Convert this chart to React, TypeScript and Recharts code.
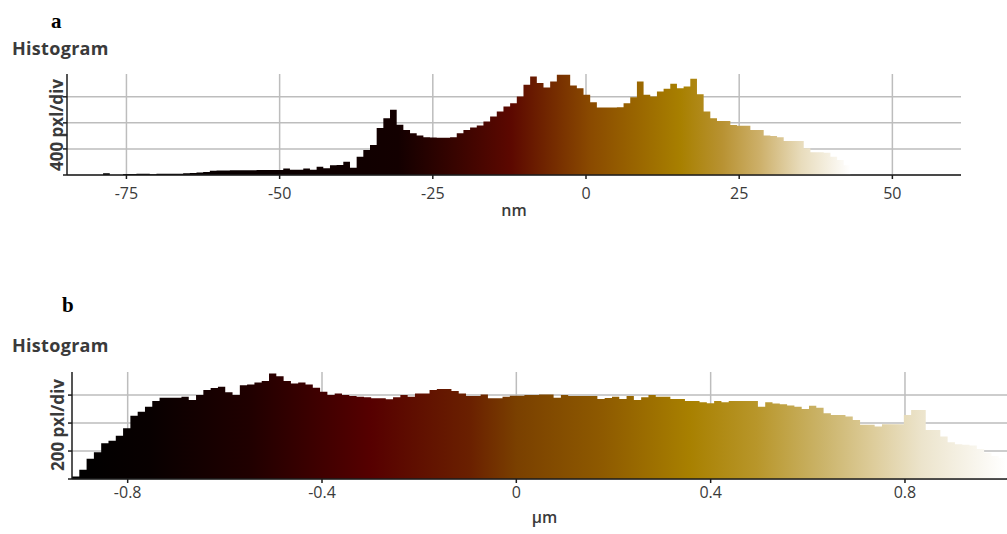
import React from 'react';
import { AreaChart, Area, XAxis, YAxis, CartesianGrid, Label } from 'recharts';

// panel a: height histogram in nm, bins of ~1.09 nm
const aBinStart = -79.9;
const aBinWidth = 1.089;
const aCounts = [
  0, 25, 0, 0, 15, 15, 20, 20, 10, 20,
  20, 20, 20, 25, 30, 40, 45, 65, 70, 70,
  72, 72, 72, 72, 75, 75, 75, 77, 100, 80,
  80, 100, 80, 125, 105, 150, 155, 205, 110, 280,
  385, 460, 720, 870, 1000, 770, 690, 640, 605, 580,
  575, 570, 572, 578, 640, 690, 730, 760, 820, 897,
  974, 1051, 1103, 1205, 1384, 1512, 1410, 1343, 1435, 1538,
  1538, 1374, 1333, 1230, 1118, 1036, 1036, 1036, 1040, 1103,
  1195, 1435, 1230, 1205, 1282, 1323, 1400, 1333, 1358, 1477,
  1241, 974, 872, 830, 830, 769, 754, 754, 692, 692,
  605, 600, 580, 523, 523, 523, 410, 349, 349, 340,
  282, 230, 150,
];
const aTicks = [-75, -50, -25, 0, 25, 50];
const aYTicks = [0, 400, 800, 1200];

// panel b: height histogram in µm, 128 bins
const bBinStart = -0.9146;
const bBinWidth = 0.01502;
const bCounts = [
  18, 66, 145, 192, 256, 273, 310, 363, 453, 481,
  517, 557, 581, 581, 581, 588, 565, 600, 636, 650,
  659, 620, 600, 670, 675, 690, 700, 755, 735, 700,
  683, 690, 676, 652, 624, 600, 612, 600, 593, 588,
  584, 577, 577, 570, 585, 600, 588, 612, 612, 636,
  643, 643, 629, 612, 593, 593, 605, 577, 577, 588,
  595, 595, 600, 600, 605, 605, 581, 600, 593, 593,
  593, 593, 572, 580, 588, 572, 593, 565, 584, 600,
  588, 588, 572, 572, 557, 557, 548, 541, 557, 548,
  557, 557, 557, 557, 517, 548, 540, 534, 525, 517,
  500, 524, 510, 470, 458, 458, 446, 422, 387, 387,
  375, 392, 392, 392, 458, 493, 493, 351, 351, 303,
  263, 249, 245, 239, 215, 187, 165, 150,
];
const bTicks = [-0.8, -0.4, 0, 0.4, 0.8];
const bYTicks = [0, 200, 400, 600];

const toBins = (start: number, width: number, counts: number[]) => {
  const rows = counts.map((c, i) => ({ x: start + i * width, count: c }));
  rows.push({ x: start + counts.length * width, count: 0 });
  return rows;
};

const aData = toBins(aBinStart, aBinWidth, aCounts);
const bData = toBins(bBinStart, bBinWidth, bCounts);

const FONT = '"Open Sans", "Noto Sans", sans-serif';
const GRID = '#bdbdbd';
const AXIS = '#1c1c1c';
const TEXT = '#3a3a3a';

const abs = (style: React.CSSProperties): React.CSSProperties => ({
  position: 'absolute',
  whiteSpace: 'nowrap',
  lineHeight: 1,
  ...style,
});

const panelLetter = { fontFamily: '"Liberation Serif", "Times New Roman", serif', fontWeight: 700, fontSize: 21, color: '#000' };
const heading = { fontFamily: FONT, fontWeight: 700, fontSize: 18, color: TEXT, letterSpacing: 0.3 };
const yLabel = { fontFamily: FONT, fontWeight: 700, fontSize: 17, color: TEXT, transform: 'translate(-50%, -50%) rotate(-90deg)' };

export default function App() {
  return (
    <div style={{ position: 'absolute', left: 0, top: 0, width: 1007, height: 534, background: '#fff', overflow: 'hidden' }}>
      <div style={abs({ ...panelLetter, left: 51, top: 11 })}>a</div>
      <div style={abs({ ...heading, left: 12, top: 39 })}>Histogram</div>
      <div style={abs({ ...yLabel, left: 56, top: 125 })}>400 pxl/div</div>

      <div style={abs({ left: 0, top: 0 })}>
        <AreaChart width={1007} height={230} data={aData} margin={{ top: 74, right: 46, bottom: 25, left: 57 }}>
          <defs>
            <linearGradient id="gradA" x1="0" y1="0" x2="1" y2="0">
              <stop offset="0" stopColor="#000000" />
              <stop offset="0.40" stopColor="#130000" />
              <stop offset="0.55" stopColor="#5c0800" />
              <stop offset="0.655" stopColor="#8a4a00" />
              <stop offset="0.775" stopColor="#a88000" />
              <stop offset="0.83" stopColor="#b89232" />
              <stop offset="0.88" stopColor="#cdb06a" />
              <stop offset="0.935" stopColor="#e8dcbc" />
              <stop offset="1" stopColor="#ffffff" />
            </linearGradient>
          </defs>
          <CartesianGrid stroke={GRID} strokeWidth={1.5} syncWithTicks />
          <XAxis
            dataKey="x"
            type="number"
            domain={[-84.7, 61.2]}
            ticks={aTicks}
            interval={0}
            height={30}
            tickSize={4}
            tickMargin={9}
            axisLine={{ stroke: AXIS, strokeWidth: 1.5 }}
            tickLine={{ stroke: AXIS, strokeWidth: 1.5 }}
            tick={{ fontFamily: FONT, fontSize: 16, fill: TEXT }}
          >
            <Label value="nm" position="bottom" offset={0} style={{ fontFamily: FONT, fontSize: 16, fontWeight: 600, fill: TEXT }} />
          </XAxis>
          <YAxis
            type="number"
            domain={[0, 1550]}
            ticks={aYTicks}
            interval={0}
            width={10}
            tickSize={4}
            tickFormatter={() => ''}
            axisLine={{ stroke: AXIS, strokeWidth: 1.5 }}
            tickLine={{ stroke: AXIS, strokeWidth: 1.5 }}
          />
          <Area
            type="stepAfter"
            dataKey="count"
            stroke="none"
            fill="url(#gradA)"
            fillOpacity={1}
            dot={false}
            activeDot={false}
            isAnimationActive={false}
          />
        </AreaChart>
      </div>

      <div style={abs({ ...panelLetter, left: 62, top: 295 })}>b</div>
      <div style={abs({ ...heading, left: 12, top: 336 })}>Histogram</div>
      <div style={abs({ ...yLabel, left: 57, top: 425 })}>200 pxl/div</div>

      <div style={abs({ left: 0, top: 290 })}>
        <AreaChart width={1007} height={244} data={bData} margin={{ top: 82, right: 0, bottom: 25, left: 62 }}>
          <defs>
            <linearGradient id="gradB" x1="0" y1="0" x2="1" y2="0">
              <stop offset="0" stopColor="#000000" />
              <stop offset="0.083" stopColor="#080000" />
              <stop offset="0.19" stopColor="#200000" />
              <stop offset="0.32" stopColor="#560000" />
              <stop offset="0.426" stopColor="#6a2000" />
              <stop offset="0.476" stopColor="#7a4000" />
              <stop offset="0.568" stopColor="#8e5a00" />
              <stop offset="0.661" stopColor="#a88000" />
              <stop offset="0.733" stopColor="#b8962a" />
              <stop offset="0.804" stopColor="#cbb46a" />
              <stop offset="0.857" stopColor="#ddcc9a" />
              <stop offset="0.91" stopColor="#ece4cc" />
              <stop offset="1" stopColor="#ffffff" />
            </linearGradient>
          </defs>
          <CartesianGrid stroke={GRID} strokeWidth={1.5} syncWithTicks />
          <XAxis
            dataKey="x"
            type="number"
            domain={[-0.9146, 1.01]}
            ticks={bTicks}
            interval={0}
            height={30}
            tickSize={4}
            tickMargin={4}
            axisLine={{ stroke: AXIS, strokeWidth: 1.5 }}
            tickLine={{ stroke: AXIS, strokeWidth: 1.5 }}
            tick={{ fontFamily: FONT, fontSize: 16, fill: TEXT }}
          >
            <Label value="µm" position="bottom" offset={3} dx={5} style={{ fontFamily: FONT, fontSize: 16, fontWeight: 600, fill: TEXT }} />
          </XAxis>
          <YAxis
            type="number"
            domain={[0, 765]}
            ticks={bYTicks}
            interval={0}
            width={10}
            tickSize={4}
            tickFormatter={() => ''}
            axisLine={{ stroke: AXIS, strokeWidth: 1.5 }}
            tickLine={{ stroke: AXIS, strokeWidth: 1.5 }}
          />
          <Area
            type="stepAfter"
            dataKey="count"
            stroke="none"
            fill="url(#gradB)"
            fillOpacity={1}
            dot={false}
            activeDot={false}
            isAnimationActive={false}
          />
        </AreaChart>
      </div>
    </div>
  );
}
